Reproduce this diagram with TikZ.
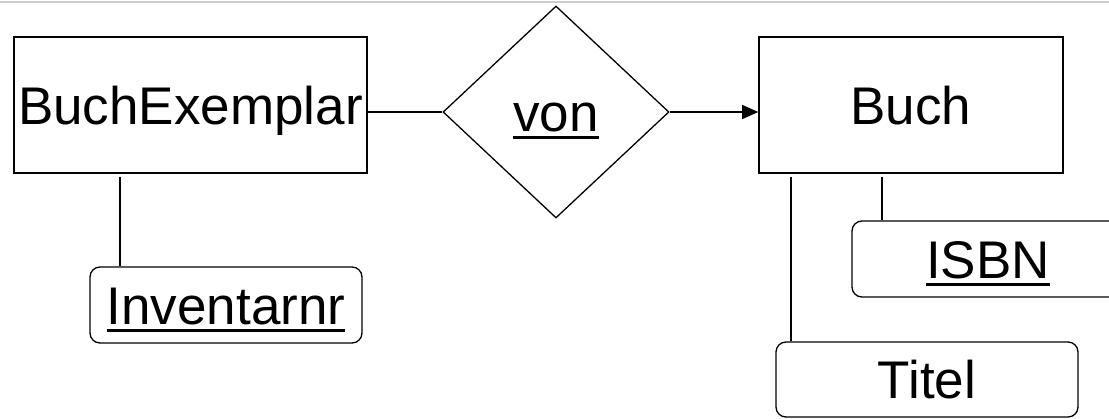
\documentclass[tikz,border=0pt]{standalone}
\usepackage{fontspec}
\setmainfont{Liberation Sans}
\usetikzlibrary{shapes.geometric,arrows.meta}
% key attribute: text with a thick rule underneath
\newcommand\keyattr[1]{\vtop{\hbox{#1}\kern4.5pt\hrule height 3pt}}
\begin{document}
\begin{tikzpicture}[x=1pt,y=-1pt,
  every node/.style={font=\fontsize{53}{60}\selectfont,text height=38pt,text depth=0pt,inner sep=0pt},
  entity/.style={draw,line width=1.6pt,rectangle},
  attrib/.style={draw,line width=1.3pt,rectangle,rounded corners=10pt,minimum width=272pt,minimum height=76pt},
  relship/.style={draw,line width=1.3pt,diamond,minimum width=226pt,minimum height=212pt},
  link/.style={line width=1.3pt},
]
\useasboundingbox (0,0) rectangle (1109,418);
\clip (0,0) rectangle (1109,418);
% thin rule along the top edge
\draw[line width=2pt,black!20] (0,1.5) -- (1109,1.5);

% entities and relationship
\node[entity,minimum width=353pt,minimum height=136pt] (bex) at (190.5,105) {BuchExemplar};
\node[relship] (von) at (556,112) {\keyattr{von}};
\node[entity,minimum width=304pt,minimum height=136pt] (buch) at (911,105) {Buch};

% attributes
\node[attrib] (inv) at (226,305) {\keyattr{Inventarnr}};
\node[attrib] (isbn) at (988,259) {\keyattr{ISBN}};
\node[attrib,minimum width=302pt,minimum height=75pt] (titel) at (927,379.5) {Titel};

% connectors, level with the diamond's side corners
\draw[link] (von.west -| bex.east) -- (von.west);
\draw[link,-{Triangle[length=16pt,width=14pt]}] (von.east) -- (von.east -| buch.west);

\coordinate (xinv) at (120,0);
\coordinate (xtitel) at (791,0);
\coordinate (xisbn) at (882,0);
\draw[link,shorten <=3pt] (bex.south -| xinv) -- (inv.north -| xinv);
\draw[link,shorten <=3pt] (buch.south -| xtitel) -- (titel.north -| xtitel);
\draw[link,shorten <=3pt] (buch.south -| xisbn) -- (isbn.north -| xisbn);
\end{tikzpicture}
\end{document}
